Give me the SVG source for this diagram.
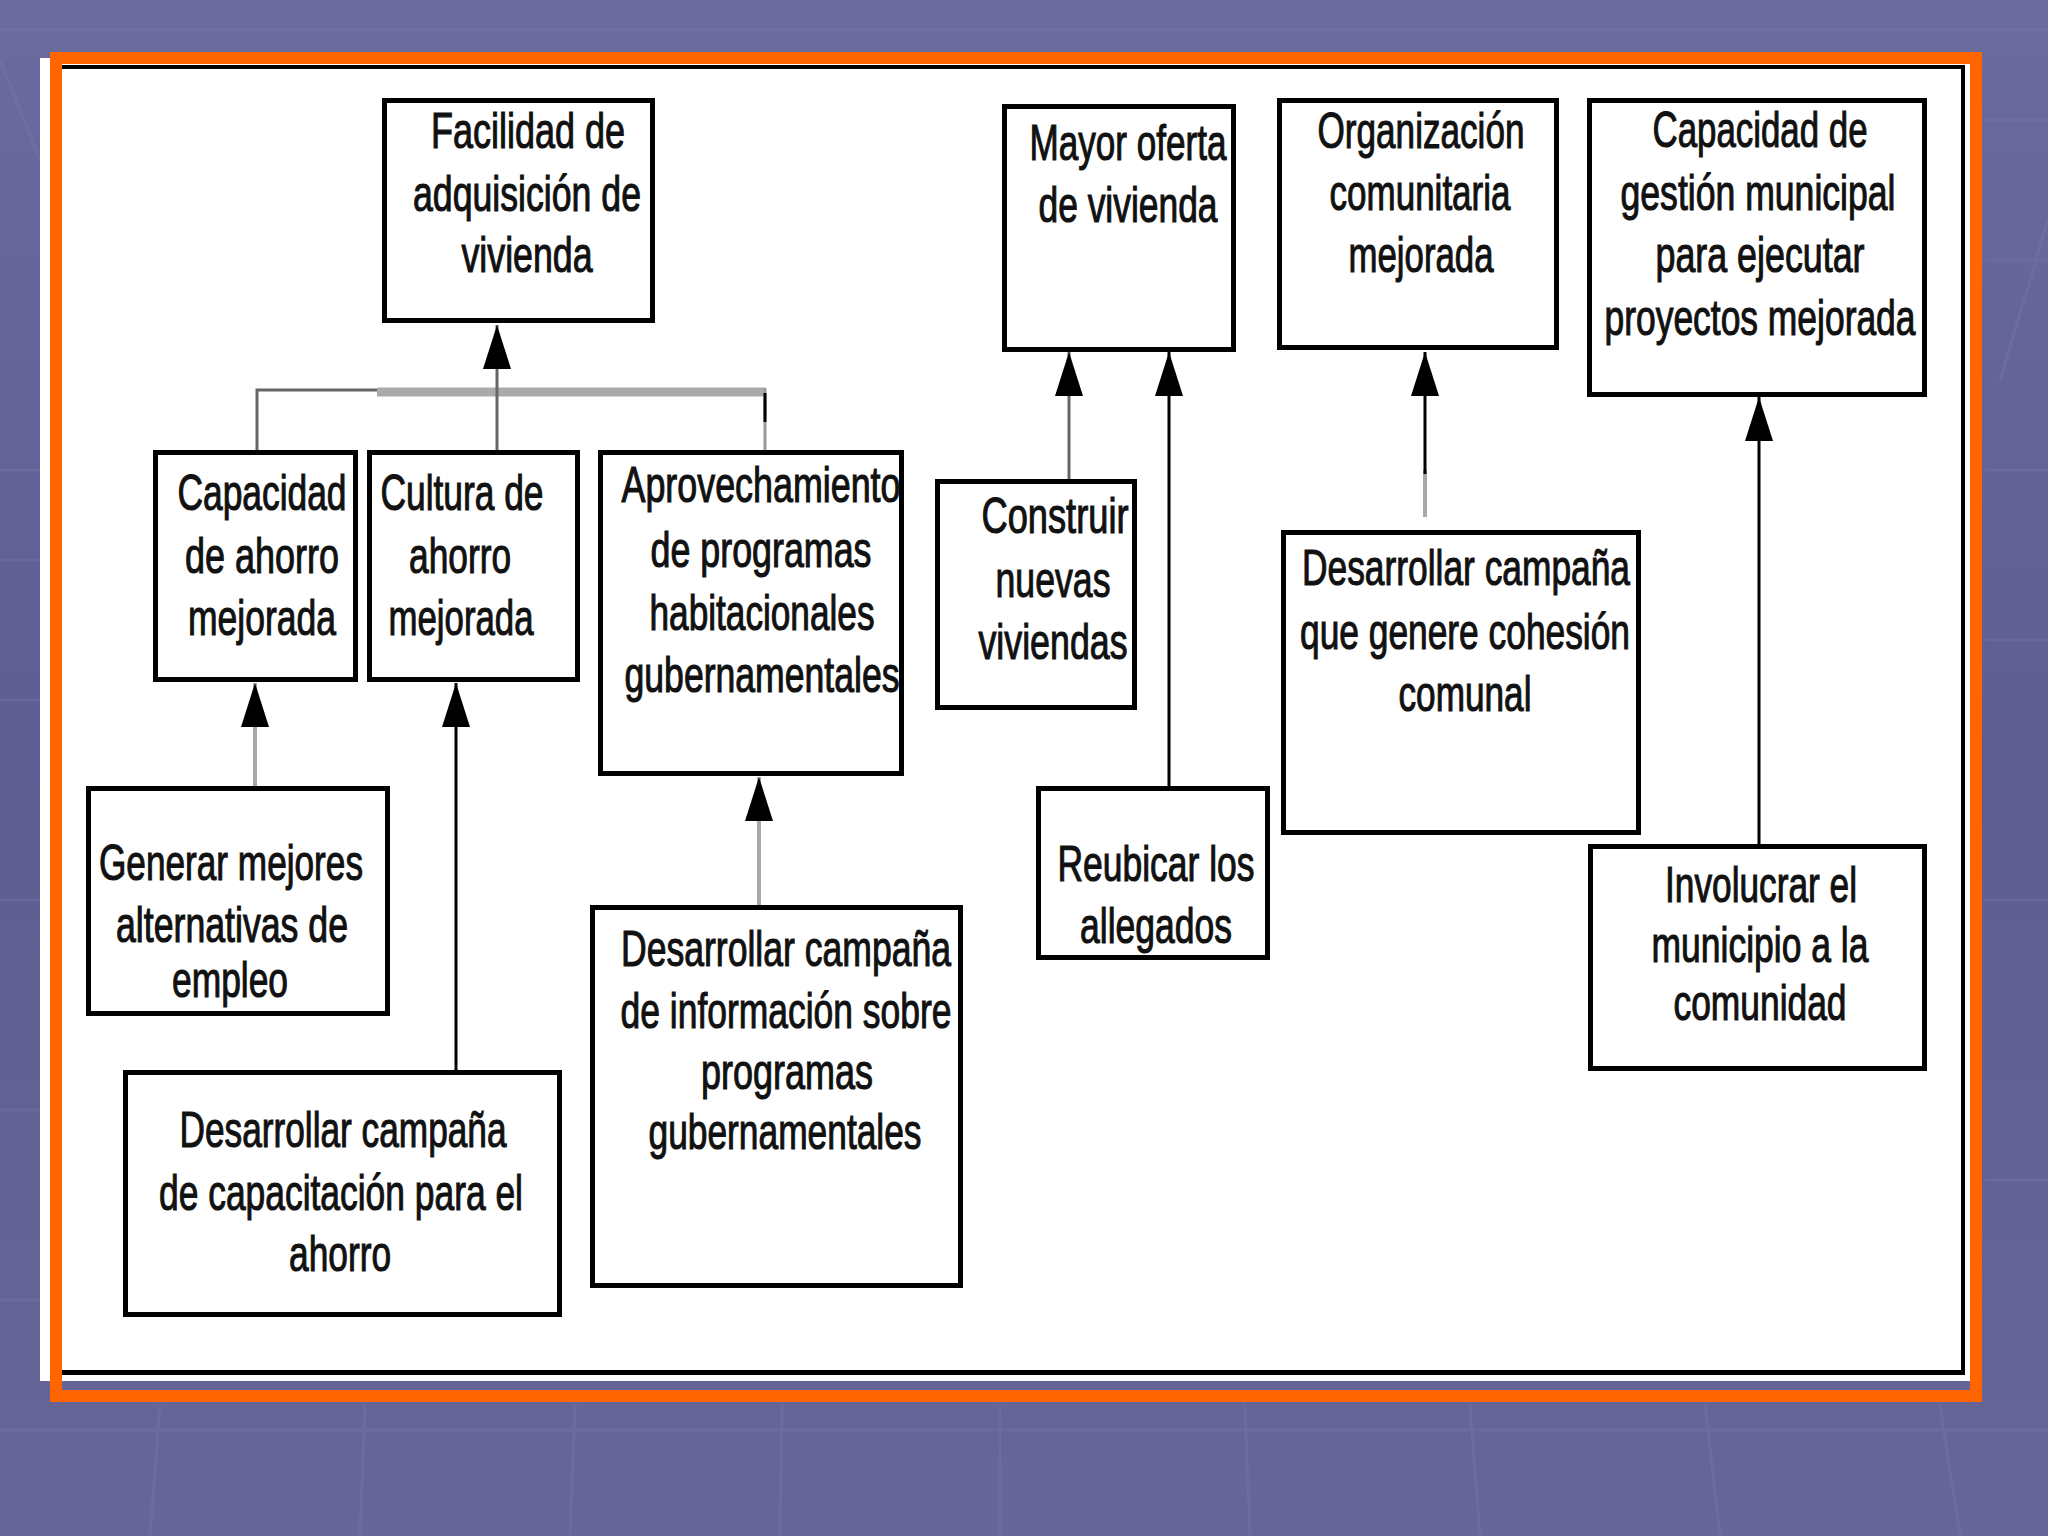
<svg xmlns="http://www.w3.org/2000/svg" width="2048" height="1536" viewBox="0 0 2048 1536">
<defs>
<linearGradient id="bg" x1="0" y1="0" x2="0" y2="1">
<stop offset="0" stop-color="#6c6ba0"/>
<stop offset="0.5" stop-color="#5d5d91"/>
<stop offset="1" stop-color="#666699"/>
</linearGradient>
<marker id="arr" viewBox="0 0 44 28" refX="44" refY="14" markerWidth="44" markerHeight="28" markerUnits="userSpaceOnUse" orient="auto">
<path d="M0,0 L44,14 L0,28 z" fill="#000"/>
</marker>
<style>
.box{fill:#fff;stroke:#000;stroke-width:5}
.t{font-family:"Liberation Sans Narrow","Liberation Sans",Arial,sans-serif;font-size:50px;fill:#111;stroke:#111;stroke-width:1.1;text-anchor:middle}
.blk{stroke:#000;stroke-width:3;fill:none}
.dg{stroke:#666;stroke-width:3;fill:none}
.lg{stroke:#a8a8a8;stroke-width:4;fill:none}
</style>
</defs>
<rect x="0" y="0" width="2048" height="1536" fill="url(#bg)"/>
<g id="background-pattern" stroke="#7a79ab" stroke-width="3" opacity="0.35" fill="none">
<path d="M0,30 H2048 M0,470 H40 M0,560 H40 M0,700 H40 M0,900 H40 M0,1110 H40 M0,1300 H40"/>
<path d="M1985,120 H2048 M1985,260 H2048 M1985,470 H2048 M1985,640 H2048 M1985,900 H2048 M1985,1180 H2048"/>
<path d="M0,1430 H2048 M150,1536 L160,1405 M360,1536 L365,1405 M570,1536 L575,1405 M780,1536 L782,1405 M1000,1536 L1000,1405 M1250,1536 L1245,1405 M1480,1536 L1470,1405 M1720,1536 L1705,1405 M1960,1536 L1940,1405"/>
<path d="M0,60 L40,160 M2000,380 L2048,220"/>
</g>
<g id="frame">
<rect x="40" y="58" width="1930" height="1323" fill="#fff"/>
<rect x="62" y="65" width="1903" height="4" fill="#000"/>
<rect x="1961" y="65" width="4" height="1310" fill="#000"/>
<rect x="62" y="1370" width="1903" height="5" fill="#000"/>
<rect x="56" y="58" width="1920" height="1338" fill="none" stroke="#ff6600" stroke-width="12"/>
</g>
<g id="connectors">
<path class="dg" d="M257,450 V390 H377"/>
<path d="M377,392 H765" stroke="#aaa" stroke-width="9" fill="none"/>
<path d="M765,388 V450" stroke="#999" stroke-width="3" fill="none"/>
<path d="M765,393 V422" stroke="#000" stroke-width="3" fill="none"/>
<line class="dg" x1="497" y1="450" x2="497" y2="325" marker-end="url(#arr)"/>
<line class="lg" x1="255" y1="786" x2="255" y2="683" marker-end="url(#arr)"/>
<line class="blk" x1="456" y1="1070" x2="456" y2="683" marker-end="url(#arr)"/>
<line class="lg" x1="759" y1="905" x2="759" y2="777" marker-end="url(#arr)"/>
<line class="dg" x1="1069" y1="479" x2="1069" y2="352" marker-end="url(#arr)"/>
<line class="blk" x1="1169" y1="786" x2="1169" y2="352" marker-end="url(#arr)"/>
<line class="lg" x1="1425" y1="517" x2="1425" y2="470"/>
<line class="blk" x1="1425" y1="474" x2="1425" y2="352" marker-end="url(#arr)"/>
<line class="blk" x1="1759" y1="844" x2="1759" y2="397" marker-end="url(#arr)"/>
</g>
<g id="n-facilidad">
<rect class="box" x="384.5" y="100.5" width="268" height="220"/>
<text class="t" transform="translate(528,148) scale(0.75,1)" textLength="258.7" lengthAdjust="spacingAndGlyphs">Facilidad de</text>
<text class="t" transform="translate(527,211) scale(0.75,1)" textLength="304" lengthAdjust="spacingAndGlyphs">adquisición de</text>
<text class="t" transform="translate(527,272) scale(0.75,1)" textLength="174.7" lengthAdjust="spacingAndGlyphs">vivienda</text>
</g>
<g id="n-capacidad-ahorro">
<rect class="box" x="155.5" y="452.5" width="200" height="227"/>
<text class="t" transform="translate(262,510) scale(0.75,1)" textLength="225.3" lengthAdjust="spacingAndGlyphs">Capacidad</text>
<text class="t" transform="translate(262,573) scale(0.75,1)" textLength="205.3" lengthAdjust="spacingAndGlyphs">de ahorro</text>
<text class="t" transform="translate(262,635) scale(0.75,1)" textLength="197.3" lengthAdjust="spacingAndGlyphs">mejorada</text>
</g>
<g id="n-cultura">
<rect class="box" x="369.5" y="452.5" width="208" height="227"/>
<text class="t" transform="translate(462,510) scale(0.75,1)" textLength="217.3" lengthAdjust="spacingAndGlyphs">Cultura de</text>
<text class="t" transform="translate(460,573) scale(0.75,1)" textLength="136" lengthAdjust="spacingAndGlyphs">ahorro</text>
<text class="t" transform="translate(461,635) scale(0.75,1)" textLength="193.3" lengthAdjust="spacingAndGlyphs">mejorada</text>
</g>
<g id="n-aprovechamiento">
<rect class="box" x="600.5" y="452.5" width="301" height="321"/>
<text class="t" transform="translate(761,502) scale(0.75,1)" textLength="372" lengthAdjust="spacingAndGlyphs">Aprovechamiento</text>
<text class="t" transform="translate(761,567) scale(0.75,1)" textLength="294.7" lengthAdjust="spacingAndGlyphs">de programas</text>
<text class="t" transform="translate(762,630) scale(0.75,1)" textLength="300" lengthAdjust="spacingAndGlyphs">habitacionales</text>
<text class="t" transform="translate(762,692) scale(0.75,1)" textLength="366.7" lengthAdjust="spacingAndGlyphs">gubernamentales</text>
</g>
<g id="n-mayor-oferta">
<rect class="box" x="1004.5" y="106.5" width="229" height="243"/>
<text class="t" transform="translate(1128,160) scale(0.75,1)" textLength="262.7" lengthAdjust="spacingAndGlyphs">Mayor oferta</text>
<text class="t" transform="translate(1128,222) scale(0.75,1)" textLength="238.7" lengthAdjust="spacingAndGlyphs">de vivienda</text>
</g>
<g id="n-organizacion">
<rect class="box" x="1279.5" y="100.5" width="277" height="247"/>
<text class="t" transform="translate(1421,148) scale(0.75,1)" textLength="276" lengthAdjust="spacingAndGlyphs">Organización</text>
<text class="t" transform="translate(1420,210) scale(0.75,1)" textLength="241.3" lengthAdjust="spacingAndGlyphs">comunitaria</text>
<text class="t" transform="translate(1421,272) scale(0.75,1)" textLength="193.3" lengthAdjust="spacingAndGlyphs">mejorada</text>
</g>
<g id="n-capacidad-gestion">
<rect class="box" x="1589.5" y="100.5" width="335" height="294"/>
<text class="t" transform="translate(1760,147) scale(0.75,1)" textLength="286.7" lengthAdjust="spacingAndGlyphs">Capacidad de</text>
<text class="t" transform="translate(1758,210) scale(0.75,1)" textLength="366.7" lengthAdjust="spacingAndGlyphs">gestión municipal</text>
<text class="t" transform="translate(1760,272) scale(0.75,1)" textLength="278.7" lengthAdjust="spacingAndGlyphs">para ejecutar</text>
<text class="t" transform="translate(1760,335) scale(0.75,1)" textLength="414.7" lengthAdjust="spacingAndGlyphs">proyectos mejorada</text>
</g>
<g id="n-construir">
<rect class="box" x="937.5" y="481.5" width="197" height="226"/>
<text class="t" transform="translate(1055,533) scale(0.75,1)" textLength="196" lengthAdjust="spacingAndGlyphs">Construir</text>
<text class="t" transform="translate(1053,597) scale(0.75,1)" textLength="153.3" lengthAdjust="spacingAndGlyphs">nuevas</text>
<text class="t" transform="translate(1053,659) scale(0.75,1)" textLength="198.7" lengthAdjust="spacingAndGlyphs">viviendas</text>
</g>
<g id="n-reubicar">
<rect class="box" x="1038.5" y="788.5" width="229" height="169"/>
<text class="t" transform="translate(1156,881) scale(0.75,1)" textLength="262.7" lengthAdjust="spacingAndGlyphs">Reubicar los</text>
<text class="t" transform="translate(1156,943) scale(0.75,1)" textLength="202.7" lengthAdjust="spacingAndGlyphs">allegados</text>
</g>
<g id="n-cohesion">
<rect class="box" x="1283.5" y="532.5" width="355" height="300"/>
<text class="t" transform="translate(1466,585) scale(0.75,1)" textLength="437.3" lengthAdjust="spacingAndGlyphs">Desarrollar campaña</text>
<text class="t" transform="translate(1465,649) scale(0.75,1)" textLength="440" lengthAdjust="spacingAndGlyphs">que genere cohesión</text>
<text class="t" transform="translate(1465,711) scale(0.75,1)" textLength="177.3" lengthAdjust="spacingAndGlyphs">comunal</text>
</g>
<g id="n-generar">
<rect class="box" x="88.5" y="788.5" width="299" height="225"/>
<text class="t" transform="translate(231,880) scale(0.75,1)" textLength="352" lengthAdjust="spacingAndGlyphs">Generar mejores</text>
<text class="t" transform="translate(232,942) scale(0.75,1)" textLength="309.3" lengthAdjust="spacingAndGlyphs">alternativas de</text>
<text class="t" transform="translate(230,997) scale(0.75,1)" textLength="154.7" lengthAdjust="spacingAndGlyphs">empleo</text>
</g>
<g id="n-capacitacion">
<rect class="box" x="125.5" y="1072.5" width="434" height="242"/>
<text class="t" transform="translate(343,1147) scale(0.75,1)" textLength="436" lengthAdjust="spacingAndGlyphs">Desarrollar campaña</text>
<text class="t" transform="translate(341,1210) scale(0.75,1)" textLength="485.3" lengthAdjust="spacingAndGlyphs">de capacitación para el</text>
<text class="t" transform="translate(340,1271) scale(0.75,1)" textLength="136" lengthAdjust="spacingAndGlyphs">ahorro</text>
</g>
<g id="n-informacion">
<rect class="box" x="592.5" y="907.5" width="368" height="378"/>
<text class="t" transform="translate(786,966) scale(0.75,1)" textLength="440" lengthAdjust="spacingAndGlyphs">Desarrollar campaña</text>
<text class="t" transform="translate(786,1028) scale(0.75,1)" textLength="441.3" lengthAdjust="spacingAndGlyphs">de información sobre</text>
<text class="t" transform="translate(787,1089) scale(0.75,1)" textLength="229.3" lengthAdjust="spacingAndGlyphs">programas</text>
<text class="t" transform="translate(785,1149) scale(0.75,1)" textLength="364" lengthAdjust="spacingAndGlyphs">gubernamentales</text>
</g>
<g id="n-involucrar">
<rect class="box" x="1590.5" y="846.5" width="334" height="222"/>
<text class="t" transform="translate(1761,902) scale(0.75,1)" textLength="256" lengthAdjust="spacingAndGlyphs">Involucrar el</text>
<text class="t" transform="translate(1760,962) scale(0.75,1)" textLength="289.3" lengthAdjust="spacingAndGlyphs">municipio a la</text>
<text class="t" transform="translate(1760,1020) scale(0.75,1)" textLength="230.7" lengthAdjust="spacingAndGlyphs">comunidad</text>
</g>
</svg>
